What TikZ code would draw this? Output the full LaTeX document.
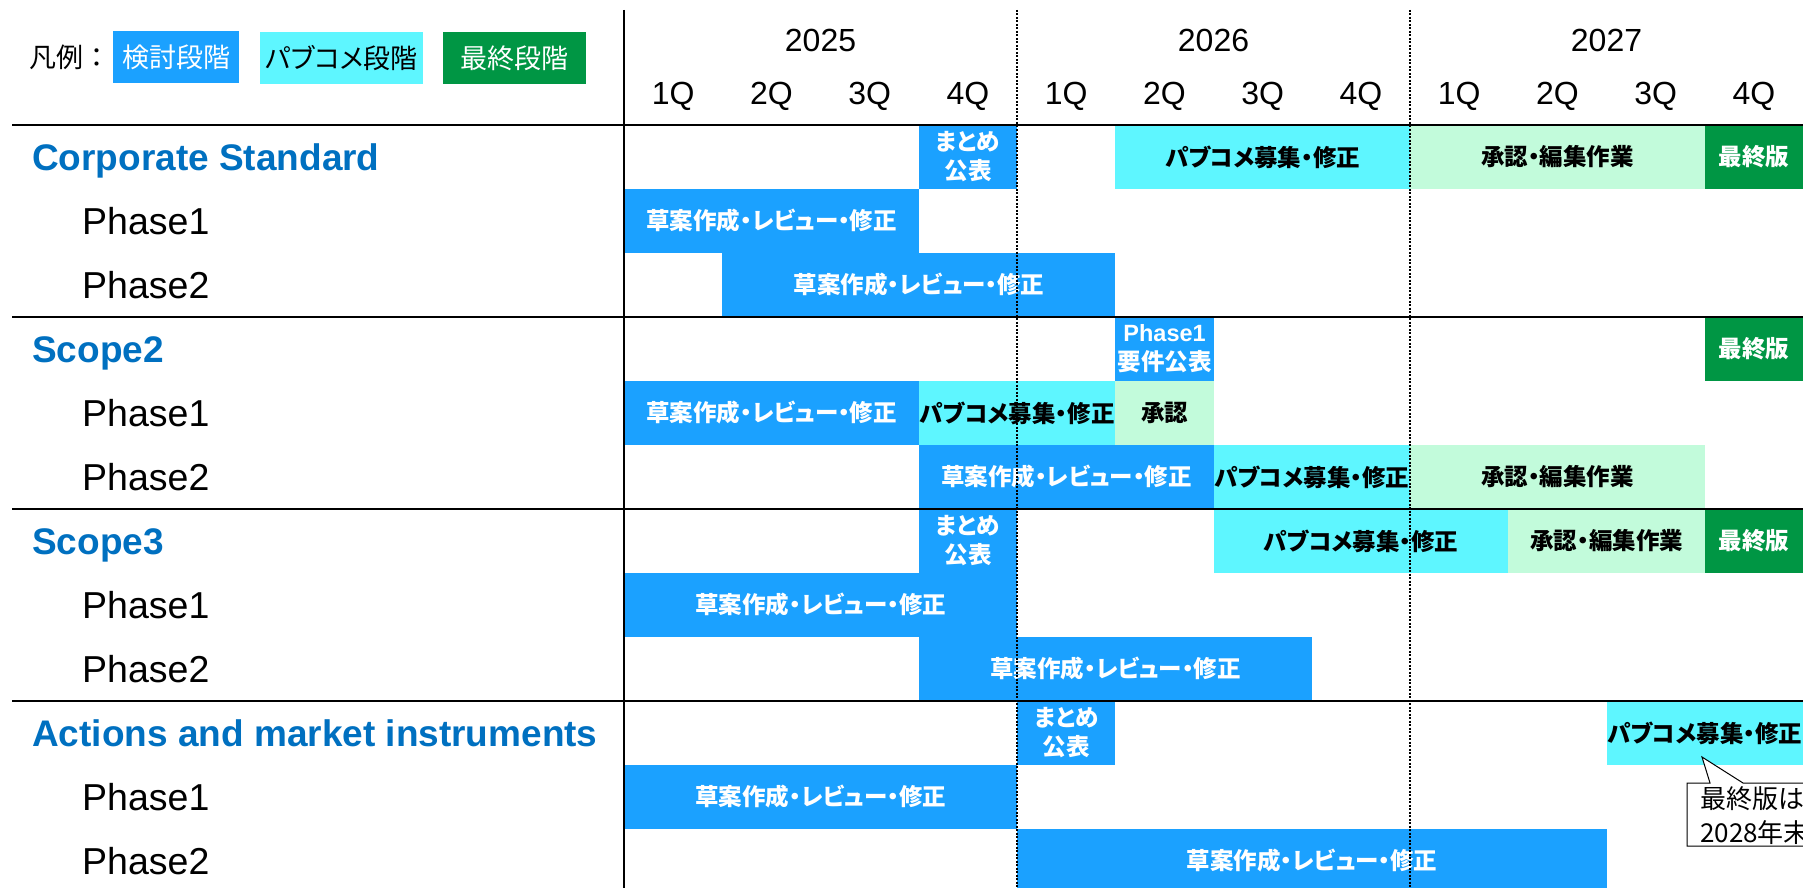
\documentclass[tikz,border=0pt]{standalone}
\usepackage{fontspec}
\setmainfont{Liberation Sans}
\newfontfamily\jp{Noto Sans CJK JP}
\newfontfamily\jpp[RawFeature=+palt]{Noto Sans CJK JP}
\usepackage{tikz}
\usetikzlibrary{positioning}
\definecolor{barblue}{HTML}{1BA1FF}
\definecolor{barcyan}{HTML}{5EF6FF}
\definecolor{barlight}{HTML}{C2FBDB}
\definecolor{bargreen}{HTML}{009644}
\definecolor{headblue}{HTML}{0070C0}

\begin{document}
\begin{tikzpicture}[x=1pt,y=-1pt]%
                    \useasboundingbox (0,0) rectangle (1803,888);%%
                    \clip (0,0) rectangle (1803,888);%%
                    % legend
                    \begin{scope}
                        \tikzstyle{every node}=[inner sep=0pt,minimum height=52pt,font=\jpp\fontsize{27}{32}\selectfont];%%
                        \node[anchor=west,font=\jp\fontsize{27}{32}\selectfont] (lg) at (29,57) {凡例：}; %%
                        \node[fill=barblue,text=white,minimum width=126pt] (lg1) at (176,57) {検討段階}; %%
                        \node[fill=barcyan,minimum width=163pt] (lg2) at (341.5,58) {パブコメ段階}; %%
                        \node[fill=bargreen,text=white,minimum width=143pt] (lg3) at (514.5,58) {最終段階}; %%
                    \end{scope}
                    % years and quarters
                    \begin{scope}
                        \tikzstyle{every node}=[anchor=base,inner sep=0pt,font=\fontsize{32}{38}\selectfont];%%
                        \node (y25) at (820.5,52) {2025}; %%
                        \node (y26) at (1213.5,52) {2026}; %%
                        \node (y27) at (1606.5,52) {2027}; %%
                        \foreach \i in {0,...,11} {%
                            \pgfmathtruncatemacro\q{mod(\i,4)+1}%
                            \node (q\i) at (673.125+98.25*\i,105) {\q Q}; %%
                        }
                    \end{scope}
                    % row labels
                    \begin{scope}
                        \tikzstyle{every node}=[anchor=base west,inner sep=0pt,font=\fontsize{37.5}{44}\selectfont];%%
                        \tikzstyle{sect}=[text=headblue,font=\bfseries\fontsize{37}{44}\selectfont];%%
                        \node[sect] (cs) at (32,170) {Corporate Standard}; %%
                        \node (cs1) at (82,234.5) {Phase1}; %%
                        \node (cs2) at (82,298.5) {Phase2}; %%
                        \node[sect] (sc2) at (32,362) {Scope2}; %%
                        \node (sc21) at (82,426.5) {Phase1}; %%
                        \node (sc22) at (82,490.5) {Phase2}; %%
                        \node[sect] (sc3) at (32,554) {Scope3}; %%
                        \node (sc31) at (82,618.5) {Phase1}; %%
                        \node (sc32) at (82,682.5) {Phase2}; %%
                        \node[sect] (act) at (32,746) {Actions and market instruments}; %%
                        \node (act1) at (82,810.5) {Phase1}; %%
                        \node (act2) at (82,874.5) {Phase2}; %%
                    \end{scope}
                    % bars
                    \begin{scope}
                        \tikzstyle{every node}=[anchor=west,inner sep=0pt,minimum height=64pt,align=center,font=\jpp\bfseries\fontsize{23.5}{29}\selectfont];%%
                        \tikzstyle{bluebar}=[fill=barblue,text=white];%%
                        \tikzstyle{cyanbar}=[fill=barcyan];%%
                        \tikzstyle{lightbar}=[fill=barlight];%%
                        \tikzstyle{greenbar}=[fill=bargreen,text=white];%%
                        \node[bluebar,minimum width=98.25pt] (r0a) at (918.75,157) {まとめ\\公表}; %%
                        \node[cyanbar,minimum width=294.75pt] (r0b) at (1115.25,157) {パブコメ募集・修正}; %%
                        \node[lightbar,minimum width=294.75pt] (r0c) at (1410,157) {承認・編集作業}; %%
                        \node[greenbar,minimum width=98.25pt] (r0d) at (1704.75,157) {最終版}; %%
                        \node[bluebar,minimum width=294.75pt] (r1a) at (624,221) {草案作成・レビュー・修正}; %%
                        \node[bluebar,minimum width=393pt] (r2a) at (722.25,285) {草案作成・レビュー・修正}; %%
                        \node[bluebar,minimum width=98.25pt] (r3a) at (1115.25,349) {{\rmfamily Phase1}\\要件公表}; %%
                        \node[greenbar,minimum width=98.25pt] (r3b) at (1704.75,349) {最終版}; %%
                        \node[bluebar,minimum width=294.75pt] (r4a) at (624,413) {草案作成・レビュー・修正}; %%
                        \node[cyanbar,minimum width=196.5pt] (r4b) at (918.75,413) {パブコメ募集・修正}; %%
                        \node[lightbar,minimum width=98.25pt] (r4c) at (1115.25,413) {承認}; %%
                        \node[bluebar,minimum width=294.75pt] (r5a) at (918.75,477) {草案作成・レビュー・修正}; %%
                        \node[cyanbar,minimum width=196.5pt] (r5b) at (1213.5,477) {パブコメ募集・修正}; %%
                        \node[lightbar,minimum width=294.75pt] (r5c) at (1410,477) {承認・編集作業}; %%
                        \node[bluebar,minimum width=98.25pt] (r6a) at (918.75,541) {まとめ\\公表}; %%
                        \node[cyanbar,minimum width=294.75pt] (r6b) at (1213.5,541) {パブコメ募集・修正}; %%
                        \node[lightbar,minimum width=196.5pt] (r6c) at (1508.25,541) {承認・編集作業}; %%
                        \node[greenbar,minimum width=98.25pt] (r6d) at (1704.75,541) {最終版}; %%
                        \node[bluebar,minimum width=393pt] (r7a) at (624,605) {草案作成・レビュー・修正}; %%
                        \node[bluebar,minimum width=393pt] (r8a) at (918.75,669) {草案作成・レビュー・修正}; %%
                        \node[bluebar,minimum width=98.25pt] (r9a) at (1017,733) {まとめ\\公表}; %%
                        \node[cyanbar,minimum width=196.5pt] (r9b) at (1606.5,733) {パブコメ募集・修正}; %%
                        \node[bluebar,minimum width=393pt] (r10a) at (624,797) {草案作成・レビュー・修正}; %%
                        \node[bluebar,minimum width=589.5pt] (r11a) at (1017,861) {草案作成・レビュー・修正}; %%
                    \end{scope}
                    % grid lines
                    \draw[line width=2.5pt] (12,125) -- (1803,125); %%
                    \draw[line width=2.5pt] (12,317) -- (1803,317); %%
                    \draw[line width=2.5pt] (12,509) -- (1803,509); %%
                    \draw[line width=2.5pt] (12,701) -- (1803,701); %%
                    \draw[line width=2pt] (624,10) -- (624,888); %%
                    % callout
                    \draw[fill=white,line width=1pt] (1687,783) -- (1710,783) -- (1702,757) -- (1743,783) -- (1830,783) -- (1830,846) -- (1687,846) -- cycle; %%
                    \node[anchor=north west,inner sep=0pt,align=left,font=\jpp\fontsize{26}{34}\selectfont] (note) at (1700,786) {最終版は\\2028年末}; %%
                    % year borders
                    \draw[line width=2.5pt,dash pattern=on 2pt off 1.5pt] (1017,10) -- (1017,888); %%
                    \draw[line width=2.5pt,dash pattern=on 2pt off 1.5pt] (1410,10) -- (1410,888); %%
                    \end{tikzpicture}
\end{document}
